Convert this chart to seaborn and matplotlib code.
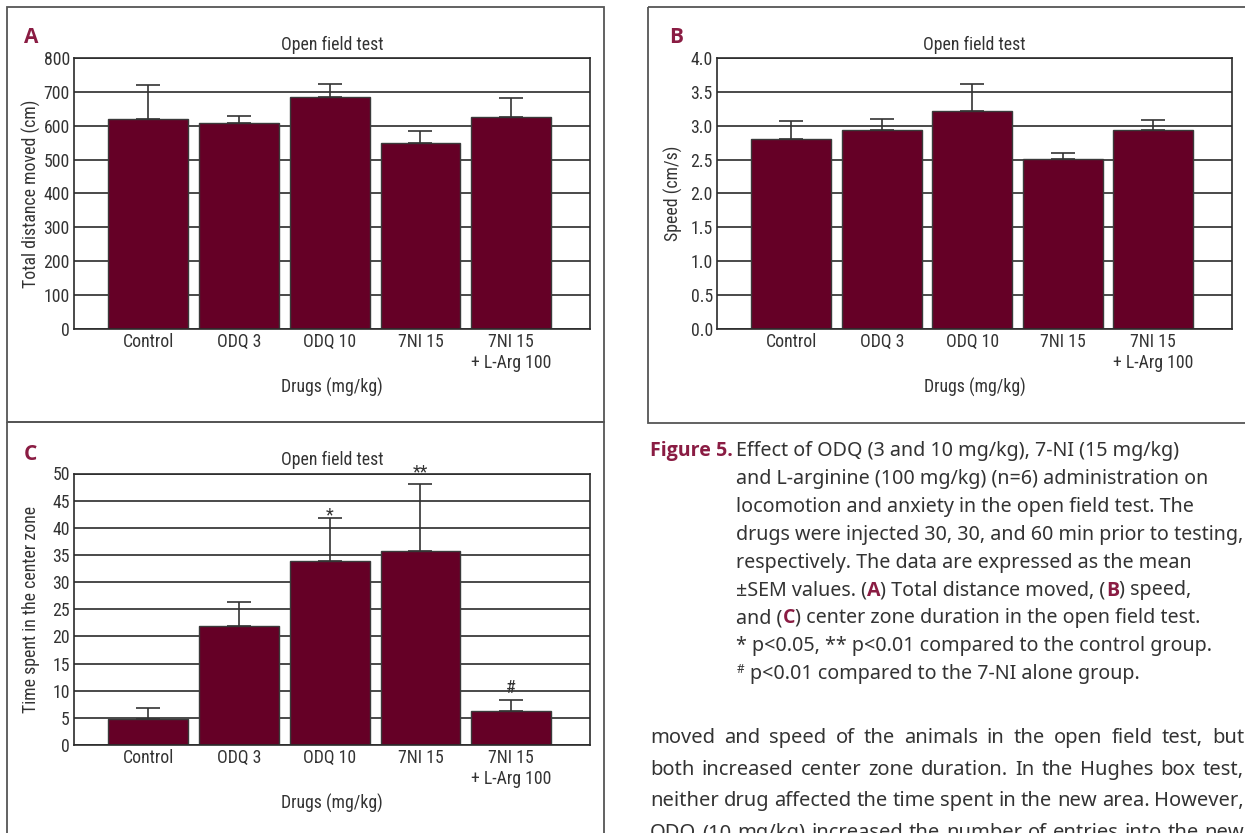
import numpy as np
import pandas as pd
import matplotlib
matplotlib.use('Agg')
import matplotlib.pyplot as plt
import seaborn as sns
from matplotlib import font_manager as fm
from matplotlib.patches import Rectangle

# data (mean and upper SEM)
drugs = ['Control', 'ODQ 3', 'ODQ 10', '7NI 15', '7NI 15\n+ L-Arg 100']
distance_mean = [621, 607, 684, 548, 626]
distance_sem = [99, 21, 39, 36, 55]
speed_mean = [2.81, 2.93, 3.22, 2.51, 2.93]
speed_sem = [0.26, 0.17, 0.40, 0.09, 0.15]
center_mean = [4.7, 22.0, 33.8, 35.8, 6.3]
center_sem = [2.1, 4.3, 8.0, 12.3, 2.0]
center_marks = ['', '', '*', '**', '#']
center_mark_offset = [0, 0, 2, 8, 8.5]

caption_lines = [
    'and L-arginine (100 mg/kg) (n=6) administration on',
    'locomotion and anxiety in the open field test. The',
    'drugs were injected 30, 30, and 60 min prior to testing,',
    'respectively. The data are expressed as the mean',
]
body_lines = [
    'moved and speed of the animals in the open field test, but',
    'both increased center zone duration. In the Hughes box test,',
    'neither drug affected the time spent in the new area. However,',
    'ODQ (10 mg/kg) increased the number of entries into the new',
]

sns.set_theme(style='white')

# pick fonts that are really installed
entries = fm.fontManager.ttflist
names = {f.name for f in entries}


def is_bold(f):
    w = f.weight if isinstance(f.weight, int) else fm.weight_dict.get(f.weight, 400)
    return w >= 600


bold_names = {f.name for f in entries if is_bold(f)}


def pick(cands, pool, default):
    for c in cands:
        if c in pool:
            return c
    return default


narrow = pick(['Liberation Sans Narrow', 'Roboto Condensed', 'Noto Sans Condensed',
               'DejaVu Sans Condensed', 'Open Sans Condensed'], names, None)
chart_font = [narrow or 'Liberation Sans', 'DejaVu Sans']
text_font = [pick(['Noto Sans', 'Open Sans', 'Lato'], names, 'DejaVu Sans'), 'DejaVu Sans']
bold_font = [pick(['Noto Sans', 'Open Sans', 'Lato', 'Roboto', 'Liberation Sans'],
                  bold_names, 'DejaVu Sans'), 'DejaVu Sans']
plt.rcParams['font.family'] = chart_font

bar_color = '#650026'
ink = '#333333'
maroon = '#8a1c43'

W, H = 1245, 833
fig = plt.figure(figsize=(W / 100, H / 100), dpi=100)
renderer = fig.canvas.get_renderer()

# full-figure axes in pixel units for frames and text
bg = fig.add_axes([0, 0, 1, 1])
bg.set_xlim(0, W)
bg.set_ylim(H, 0)
bg.axis('off')


def fit_size(text, family, target, weight='normal', ref=12.0):
    t = bg.text(0, 0, text, fontsize=ref, family=family, fontweight=weight)
    w = t.get_window_extent(renderer).width
    t.remove()
    return ref * target / w


fs = 12.8 if narrow else 10.5


def px_axes(left, top, right, bottom):
    return fig.add_axes([left / W, 1 - bottom / H, (right - left) / W, (bottom - top) / H])


def panel(ax, means, sems, ymax, step, ylabel, fmt):
    df = pd.DataFrame({'drug': drugs, 'value': means})
    sns.barplot(data=df, x='drug', y='value', color=bar_color, saturation=1,
                width=0.88, edgecolor='#3a3a3a', linewidth=1, errorbar=None,
                ax=ax, zorder=2)
    ax.errorbar(range(len(drugs)), means, yerr=[np.zeros(len(means)), sems],
                fmt='none', ecolor=ink, elinewidth=1.2, capsize=8.5,
                capthick=1.2, zorder=3)
    ticks = np.arange(0, ymax + step / 2, step)
    ax.set_ylim(0, ymax)
    ax.set_yticks(ticks)
    ax.set_yticklabels([fmt.format(t) for t in ticks])
    ax.set_xlim(-0.82, 4.87)
    ax.yaxis.grid(True, color='#2b2b2b', linewidth=1.2)
    ax.set_axisbelow(True)
    for s in ax.spines.values():
        s.set_color('#2b2b2b')
        s.set_linewidth(1.2)
    ax.tick_params(axis='both', length=0, labelsize=fs, colors=ink, pad=3)
    ax.set_title('Open field test', fontsize=fs, color=ink, pad=5.8)
    ax.set_ylabel(ylabel, fontsize=fs, color=ink, va='center')
    ax.set_xlabel('Drugs (mg/kg)', fontsize=fs, color=ink, va='center')
    ax.xaxis.set_label_coords(0.5, -0.214)


# panel A
axA = px_axes(74, 58, 590, 329)
panel(axA, distance_mean, distance_sem, 800, 100, 'Total distance moved (cm)', '{:.0f}')
axA.yaxis.set_label_coords(-0.083, 0.5)

# panel B
axB = px_axes(717, 58, 1232, 329)
panel(axB, speed_mean, speed_sem, 4.0, 0.5, 'Speed (cm/s)', '{:.1f}')
axB.yaxis.set_label_coords(-0.085, 0.5)

# panel C
axC = px_axes(74, 473.5, 590, 745)
panel(axC, center_mean, center_sem, 50, 5, 'Time spent in the center zone', '{:.0f}')
axC.yaxis.set_label_coords(-0.083, 0.5)
for i, mark in enumerate(center_marks):
    if mark:
        axC.annotate(mark, xy=(i, center_mean[i] + center_sem[i]),
                     xytext=(0, center_mark_offset[i]), textcoords='offset points',
                     ha='center', va='center', fontsize=fs, color=ink,
                     annotation_clip=False)

# panel frames
frame = dict(fill=False, edgecolor='#555555', linewidth=1.3)
bg.add_patch(Rectangle((7, 7), 597, 415, **frame))
bg.add_patch(Rectangle((7, 422), 597, 430, **frame))
bg.add_patch(Rectangle((648, 7), 620, 416, **frame))

# panel letters
for letter, x, y in [('A', 24, 43), ('B', 669, 43), ('C', 24, 460)]:
    bg.text(x, y, letter, fontsize=15, fontweight='bold', color=maroon,
            family=bold_font, va='baseline')


def rich_line(x, y, pieces, size):
    t = None
    for s, c, wt in pieces:
        fam = bold_font if wt == 'bold' else text_font
        if t is None:
            t = bg.text(x, y, s, fontsize=size, color=c, fontweight=wt,
                        family=fam, va='baseline')
        else:
            t = bg.annotate(s, xy=(1, 0), xycoords=t, va='bottom', ha='left',
                            fontsize=size, color=c, fontweight=wt, family=fam)
    return t


# caption
cap_size = fit_size(caption_lines[2], text_font, 506)
base = 456
step_y = 27.9
bg.text(650, base, 'Figure 5.', fontsize=cap_size, fontweight='bold',
        color=maroon, family=bold_font, va='baseline')
bg.text(736, base, 'Effect of ODQ (3 and 10 mg/kg), 7-NI (15 mg/kg)',
        fontsize=cap_size, color=ink, family=text_font, va='baseline')
for k, line in enumerate(caption_lines, 1):
    bg.text(736, base + k * step_y, line, fontsize=cap_size, color=ink,
            family=text_font, va='baseline')
rich_line(736, base + 5 * step_y, [
    ('±SEM values. (', ink, 'normal'), ('A', maroon, 'bold'),
    (') Total distance moved, (', ink, 'normal'), ('B', maroon, 'bold'),
    (') speed,', ink, 'normal')], cap_size)
rich_line(736, base + 6 * step_y, [
    ('and (', ink, 'normal'), ('C', maroon, 'bold'),
    (') center zone duration in the open field test.', ink, 'normal')], cap_size)
bg.text(736, base + 7 * step_y, '* p<0.05, ** p<0.01 compared to the control group.',
        fontsize=cap_size, color=ink, family=text_font, va='baseline')
bg.text(737, base + 8 * step_y - 6, '#', fontsize=cap_size * 0.6, color=ink,
        family=text_font, va='baseline')
bg.text(750, base + 8 * step_y, 'p<0.01 compared to the 7-NI alone group.',
        fontsize=cap_size, color=ink, family=text_font, va='baseline')

# body text, justified word by word
body_size = fit_size(body_lines[2], text_font, 594)
for k, line in enumerate(body_lines):
    y = 743 + k * 31.7
    words = line.split(' ')
    texts = [bg.text(0, y, w, fontsize=body_size, color=ink, family=text_font,
                     va='baseline') for w in words]
    widths = [t.get_window_extent(renderer).width for t in texts]
    gap = (1244 - 650 - sum(widths)) / (len(words) - 1)
    x = 650
    for t, w in zip(texts, widths):
        t.set_x(x)
        x += w + gap

fig.savefig('out.png', dpi=100)
